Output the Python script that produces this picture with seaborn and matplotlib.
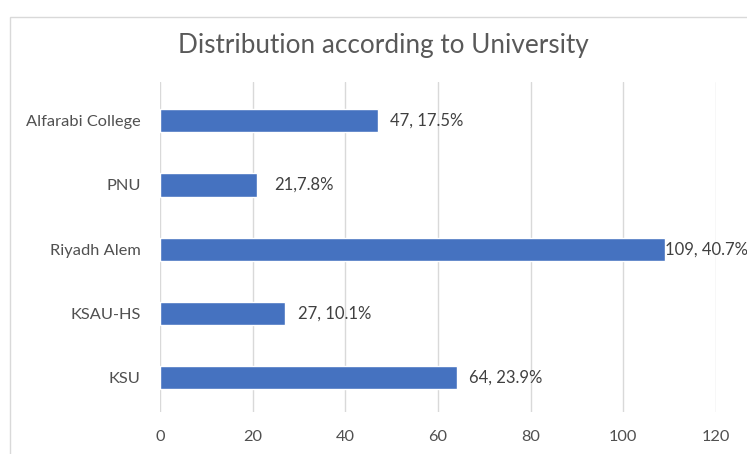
import matplotlib
matplotlib.use("Agg")
import matplotlib.pyplot as plt
from matplotlib.patches import Rectangle
import seaborn as sns
import pandas as pd

universities = ["Alfarabi College", "PNU", "Riyadh Alem", "KSAU-HS", "KSU"]
counts = [47, 21, 109, 27, 64]
labels = ["47, 17.5%", "21,7.8%", "109, 40.7%", "27, 10.1%", "64, 23.9%"]
x_ticks = [0, 20, 40, 60, 80, 100, 120]
title = "Distribution according to University"

sns.set_theme(style="white")
plt.rcParams["font.family"] = ["Lato", "DejaVu Sans"]

df = pd.DataFrame({"University": universities, "Count": counts})

fig = plt.figure(figsize=(7.47, 4.54), dpi=100)
fig.patches.append(Rectangle((10 / 747, -0.2), 1.2, 1.2 - 17 / 454,
                             transform=fig.transFigure, fill=False,
                             edgecolor="#d9d9d9", linewidth=1.0))
ax = fig.add_axes([160 / 747, 1 - 412 / 454, 556 / 747, 330 / 454])

sns.barplot(data=df, y="University", x="Count", orient="h", order=universities,
            color="#4572C0", saturation=1, width=0.36, ax=ax, zorder=3)

ax.set_xlim(0, 120)
ax.set_ylim(4.53, -0.6)
ax.set_xticks(x_ticks)
ax.set_xticklabels([str(t) for t in x_ticks])
ax.xaxis.grid(True, color="#d9d9d9", linewidth=1.0, zorder=0)
ax.set_axisbelow(True)
for s in ax.spines.values():
    s.set_visible(False)
ax.set_xlabel("")
ax.set_ylabel("")
ax.tick_params(axis="both", length=0, labelsize=11.8, colors="#505050")
ax.tick_params(axis="x", pad=13)
ax.tick_params(axis="y", pad=14)

pads = [9, 12, 0, 9, 9]
for i, (v, lab) in enumerate(zip(counts, labels)):
    ax.annotate(lab, xy=(v, i), xytext=(pads[i], 0), textcoords="offset points",
                va="center", ha="left", fontsize=12, color="#404040")

fig.text(383 / 747, 1 - 45 / 454, title, ha="center", va="center",
         fontsize=18.8, color="#595959")

fig.savefig("out.png", dpi=100)
